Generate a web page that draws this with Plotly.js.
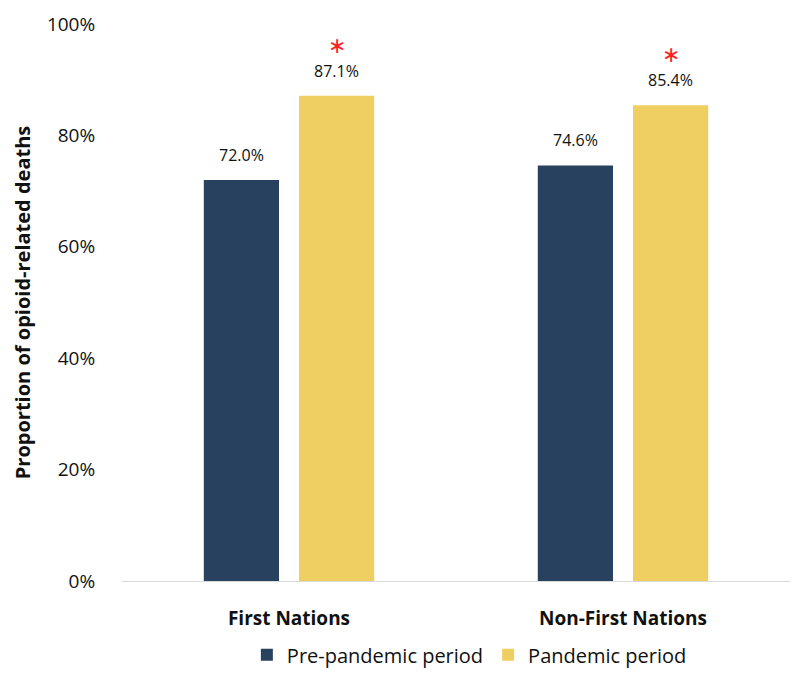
<!DOCTYPE html>
<html><head><meta charset="utf-8">
<script src="https://cdn.plot.ly/plotly-3.0.1.min.js"></script>
<style>html,body{margin:0;padding:0;background:#fff}#chart{width:795px;height:675px}</style>
</head><body><div id="chart"></div>
<script>
const categories = ['First Nations', 'Non-First Nations'];
const prePandemic = [0.720, 0.746];
const pandemic = [0.871, 0.854];
const significant = [true, true];
const seriesNames = ['Pre-pandemic period', 'Pandemic period'];

function fmt(v){ return (v*100).toFixed(1) + '%'; }

const font = 'Open Sans, Noto Sans, sans-serif';
const traces = [
  {type:'bar', name:seriesNames[0], x:categories, y:prePandemic, marker:{color:'#28415e'}, hoverinfo:'skip'},
  {type:'bar', name:seriesNames[1], x:categories, y:pandemic, marker:{color:'#f0cf62'}, hoverinfo:'skip'}
];
const half = 47.5; // half of the per-bar slot in px (style offset)
const annotations = [];
[prePandemic, pandemic].forEach((arr, s) => {
  arr.forEach((v, i) => {
    annotations.push({x:categories[i], y:v, xref:'x', yref:'y', xshift:(s===0?-half:half), yshift:12,
      yanchor:'bottom', text:fmt(v), showarrow:false, font:{family:font, size:16, color:'#111'}});
  });
});
pandemic.forEach((v, i) => {
  if (significant[i]) annotations.push({x:categories[i], y:v, xref:'x', yref:'y', xshift:half, yshift:36,
    yanchor:'bottom', text:'∗', showarrow:false, font:{family:'DejaVu Sans', size:22, color:'#ff2020'}});
});

const layout = {
  width:795, height:675,
  margin:{l:122, r:5, t:24, b:94},
  paper_bgcolor:'#fff', plot_bgcolor:'#fff',
  barmode:'group', bargap:0.43, bargroupgap:0.21,
  font:{family:font, color:'#111'},
  xaxis:{showline:true, linecolor:'#d9d9d9', linewidth:1, ticks:'outside', ticklen:20, tickcolor:'rgba(0,0,0,0)',
    tickfont:{family:font, size:19, weight:'bold', color:'#111'}, showgrid:false, zeroline:false, automargin:false},
  yaxis:{range:[0,1], dtick:0.2, tickformat:'.0%', showgrid:false, zeroline:false, showline:false,
    ticks:'outside', ticklen:22, tickcolor:'rgba(0,0,0,0)', automargin:false,
    tickfont:{family:font, size:19, color:'#111'},
    title:{text:'<b>Proportion of opioid-related deaths</b>', font:{family:font, size:20, color:'#111'}, standoff:10}},
  legend:{orientation:'h', x:0.52, xanchor:'center', yref:'container', y:0.03, yanchor:'middle',
    font:{family:font, size:20, color:'#111'}, itemwidth:30, traceorder:'normal'},
  annotations:annotations,
  showlegend:true
};
Plotly.newPlot('chart', traces, layout, {displayModeBar:false, staticPlot:true});
</script></body></html>
